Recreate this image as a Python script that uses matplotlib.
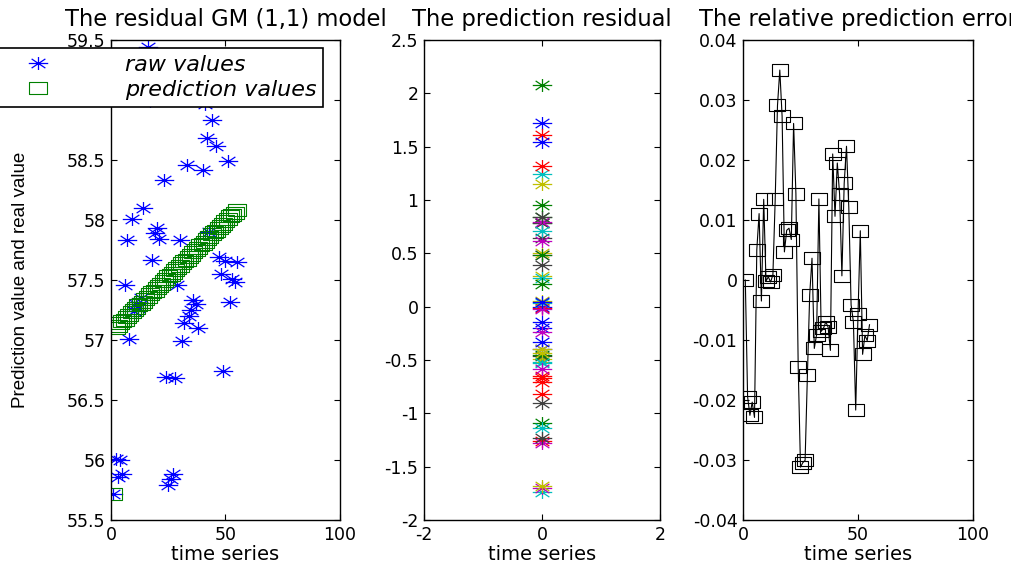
import matplotlib
matplotlib.use("Agg")
import matplotlib.pyplot as plt
import numpy as np
from matplotlib import font_manager
from matplotlib.path import Path
from matplotlib.ticker import FuncFormatter, FixedLocator

# ---------------------------------------------------------------------------
# Data (time index 1..55)
# ---------------------------------------------------------------------------
time_idx = list(range(1, 56))

raw_values = [
    55.72, 56.01, 55.86, 56.00, 55.88, 57.46, 57.83, 57.01, 58.01, 57.24,
    57.30, 57.27, 57.35, 58.10, 59.06, 59.44, 58.99, 57.67, 57.89, 57.93,
    57.84, 59.01, 58.33, 56.69, 55.79, 55.84, 55.88, 56.68, 57.46, 57.83,
    56.99, 57.14, 58.46, 57.20, 57.25, 57.33, 57.30, 57.10, 59.03, 58.42,
    58.97, 58.68, 57.90, 58.83, 59.22, 58.62, 57.69, 57.55, 56.74, 57.66,
    58.49, 57.32, 57.51, 57.48, 57.65,
]

pred_values = [
    55.72, 57.10, 57.12, 57.14, 57.16, 57.17, 57.19, 57.21, 57.23, 57.25,
    57.27, 57.29, 57.30, 57.32, 57.34, 57.36, 57.38, 57.40, 57.41, 57.43,
    57.45, 57.47, 57.49, 57.51, 57.53, 57.54, 57.56, 57.58, 57.60, 57.62,
    57.64, 57.66, 57.67, 57.69, 57.71, 57.73, 57.75, 57.77, 57.79, 57.80,
    57.82, 57.84, 57.86, 57.88, 57.90, 57.91, 57.93, 57.95, 57.97, 57.99,
    58.01, 58.03, 58.04, 58.06, 58.08,
]

titles = ["The residual GM (1,1) model", "The prediction residual",
          "The relative prediction error"]
legend_labels = ["raw values", "prediction values"]

# old MATLAB colour order
MATLAB_COLORS = [(0, 0, 1), (0, 0.5, 0), (1, 0, 0), (0, 0.75, 0.75),
                 (0.75, 0, 0.75), (0.75, 0.75, 0), (0.25, 0.25, 0.25)]

# ---------------------------------------------------------------------------
# Markers: the reference is stretched horizontally, so are its markers
# ---------------------------------------------------------------------------
SX = 1.5
_d = 0.7071
ASTERISK = Path(
    [(-SX, 0), (SX, 0), (0, -1), (0, 1),
     (-SX * _d, -_d), (SX * _d, _d), (-SX * _d, _d), (SX * _d, -_d)],
    [Path.MOVETO, Path.LINETO] * 4)
RECT = Path([(-1.5, -1), (1.5, -1), (1.5, 1), (-1.5, 1), (-1.5, -1)],
            [Path.MOVETO, Path.LINETO, Path.LINETO, Path.LINETO,
             Path.CLOSEPOLY])

plt.rcParams["font.family"] = "DejaVu Sans"
plt.rcParams["axes.unicode_minus"] = False

_names = {f.name for f in font_manager.fontManager.ttflist}
NARROW = "Liberation Sans Narrow" if "Liberation Sans Narrow" in _names \
    else "Liberation Sans"
NARROW_SIZE = 16 if NARROW == "Liberation Sans Narrow" else 13.5

W, H = 1012, 568
fig = plt.figure(figsize=(W / 100, H / 100), dpi=100)
fig.patch.set_facecolor("white")


def _axes(x0, x1, y0=40, y1=520):
    return fig.add_axes([x0 / W, 1 - y1 / H, (x1 - x0) / W, (y1 - y0) / H])


def _style(ax, title):
    for s in ax.spines.values():
        s.set_linewidth(1.0)
        s.set_color("black")
    ax.tick_params(direction="in", top=True, right=True, length=4,
                   width=0.8, labelsize=12.5, pad=4)
    ax.yaxis.set_major_formatter(FuncFormatter(lambda v, p: f"{v:g}"))
    ax.xaxis.set_major_formatter(FuncFormatter(lambda v, p: f"{v:g}"))
    ax.set_title(title, fontsize=16.3, pad=10)
    ax.set_xlabel("time series", fontsize=14, labelpad=1)


t = np.array(time_idx, dtype=float)
raw = np.array(raw_values)
pred = np.array(pred_values)
residual = raw - pred
rel_err = residual / raw

# --- panel 1 ---------------------------------------------------------------
ax1 = _axes(111, 340)
h_raw, = ax1.plot(t, raw, linestyle="none", marker=ASTERISK, ms=14,
                  mec=MATLAB_COLORS[0], mfc="none", mew=0.9)
h_pred, = ax1.plot(t, pred, linestyle="none", marker=RECT, ms=13,
                   mec=MATLAB_COLORS[1], mfc="none", mew=0.8)
ax1.set_xlim(0, 100)
ax1.set_ylim(55.5, 59.5)
ax1.xaxis.set_major_locator(FixedLocator([0, 50, 100]))
ax1.yaxis.set_major_locator(FixedLocator(np.arange(55.5, 59.51, 0.5)))
_style(ax1, titles[0])
ax1.set_ylabel("Prediction value and real value", family=NARROW,
               fontsize=NARROW_SIZE, labelpad=27)

leg = ax1.legend([h_raw, h_pred], legend_labels, loc="upper left",
                 bbox_to_anchor=(-2 / W, 1 - 48 / H),
                 bbox_transform=fig.transFigure, borderaxespad=0,
                 fancybox=False, framealpha=1, edgecolor="black",
                 prop={"style": "italic", "size": 16},
                 handlelength=3.0, handletextpad=2.4, labelspacing=0.25,
                 borderpad=0.3, numpoints=1)
leg.get_frame().set_linewidth(1.2)
leg.set_zorder(10)

# --- panel 2 ---------------------------------------------------------------
ax2 = _axes(424, 660)
for i, r in enumerate(residual):
    ax2.plot([0], [r], linestyle="none", marker=ASTERISK, ms=14,
             mec=MATLAB_COLORS[i % len(MATLAB_COLORS)], mfc="none", mew=0.9)
ax2.set_xlim(-2, 2)
ax2.set_ylim(-2, 2.5)
ax2.xaxis.set_major_locator(FixedLocator([-2, 0, 2]))
ax2.yaxis.set_major_locator(FixedLocator(np.arange(-2, 2.51, 0.5)))
_style(ax2, titles[1])

# --- panel 3 ---------------------------------------------------------------
ax3 = _axes(743, 973)
ax3.plot(t, rel_err, color="black", lw=0.8, marker=RECT, ms=12,
         mec="black", mfc="none", mew=0.8)
ax3.set_xlim(0, 100)
ax3.set_ylim(-0.04, 0.04)
ax3.xaxis.set_major_locator(FixedLocator([0, 50, 100]))
ax3.yaxis.set_major_locator(FixedLocator(np.arange(-0.04, 0.0401, 0.01)))
_style(ax3, titles[2])
ax3.yaxis.set_major_formatter(
    FuncFormatter(lambda v, p: "0" if abs(v) < 1e-9 else f"{v:.2f}"))

fig.savefig("out.png", dpi=100, facecolor="white")
